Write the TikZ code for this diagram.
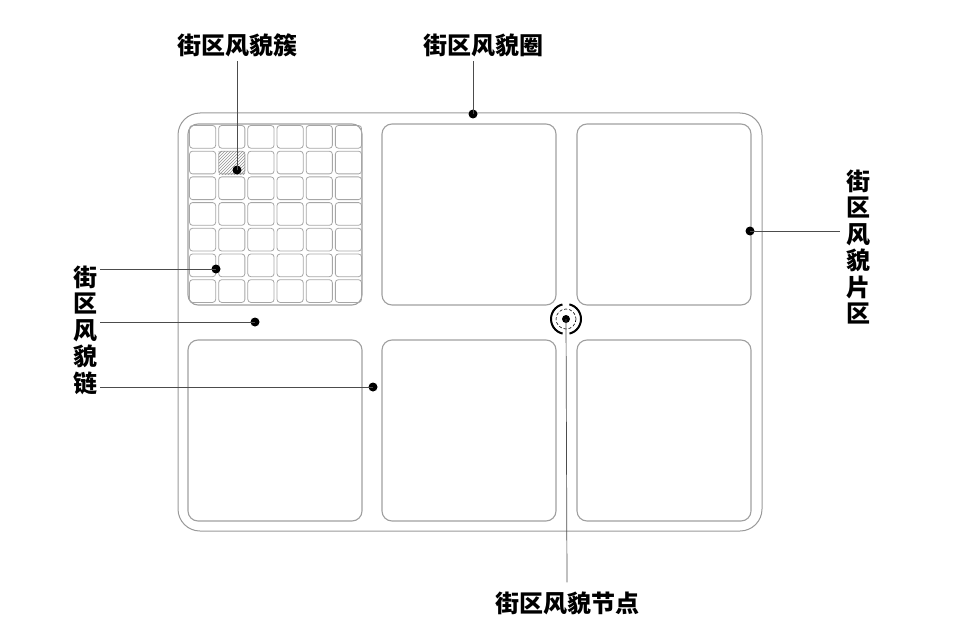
\documentclass[tikz,border=0pt]{standalone}
\usepackage{fontspec}
\newfontfamily\cjk{Noto Sans CJK SC}
\usetikzlibrary{patterns,positioning}

\begin{document}
\begin{tikzpicture}[x=1pt,y=-1pt,
  blk/.style={draw=gray!75,line width=1.1pt,rounded corners=10pt},
  gridcell/.style={draw=gray!70,line width=0.8pt,rounded corners=3pt},
  lead/.style={draw=black!70,line width=0.7pt},
  spot/.style={circle,fill=black,inner sep=0pt,minimum size=9pt},
  lbl/.style={font=\cjk\bfseries\fontsize{24}{26.5}\selectfont,inner sep=0pt,align=center}
]
  \useasboundingbox (0,0) rectangle (960,631);
  \draw[draw=gray!80,line width=1pt,rounded corners=22pt] (178,113) rectangle (762,531);
  \foreach \x in {188,382,577}
    \foreach \y in {124,340}
      \draw[blk] (\x,\y) rectangle ++(174,181);
  \foreach \i in {0,...,5}
    \foreach \j in {0,...,6}
      \draw[gridcell] ({188+\i*29.17+1.5},{124+\j*25.7+1.5}) rectangle ++(26.2,22.7);
  \fill[pattern=north east lines,pattern color=gray!85] (218.5,151.5) rectangle (245,175);

  \node[lbl] (cluster) at (237,45) {街区风貌簇};
  \node[lbl] (ring) at (483,45) {街区风貌圈};
  \node[lbl] (chain) at (85,330) {街\\区\\风\\貌\\链};
  \node[lbl] (area) at (858,247) {街\\区\\风\\貌\\片\\区};
  \node[lbl] (hub) at (567,603) {街区风貌节点};

  \node[spot] (d1) at (237,170) {};
  \node[spot] (d2) at (473,114) {};
  \node[spot] (d3) at (216,269) {};
  \node[spot] (d4) at (255,322) {};
  \node[spot] (d5) at (373,387) {};
  \node[spot] (d6) at (750,231) {};
  \node[spot,minimum size=8pt] (hubc) at (566,319) {};
  \draw[densely dashed,line width=0.6pt] (hubc.center) circle (10);
  \draw[line width=2pt,dash pattern=on 40pt off 7pt,dash phase=20pt] (hubc.center) circle (15);

  \draw[lead] (d1.center) -- ([yshift=-4pt]d1.center |- cluster.south);
  \draw[lead] (d2.center) -- ([yshift=-4pt]d2.center |- ring.south);
  \draw[lead] (d3.center) -- ([xshift=3pt]d3.center -| chain.east);
  \draw[lead] (d4.center) -- ([xshift=3pt]d4.center -| chain.east);
  \draw[lead] (d5.center) -- ([xshift=3pt]d5.center -| chain.east);
  \draw[lead] (d6.center) -- ([xshift=-6pt]d6.center -| area.west);
  \draw[lead] (hubc.center) -- ([yshift=9pt]hub.north);
\end{tikzpicture}
\end{document}
